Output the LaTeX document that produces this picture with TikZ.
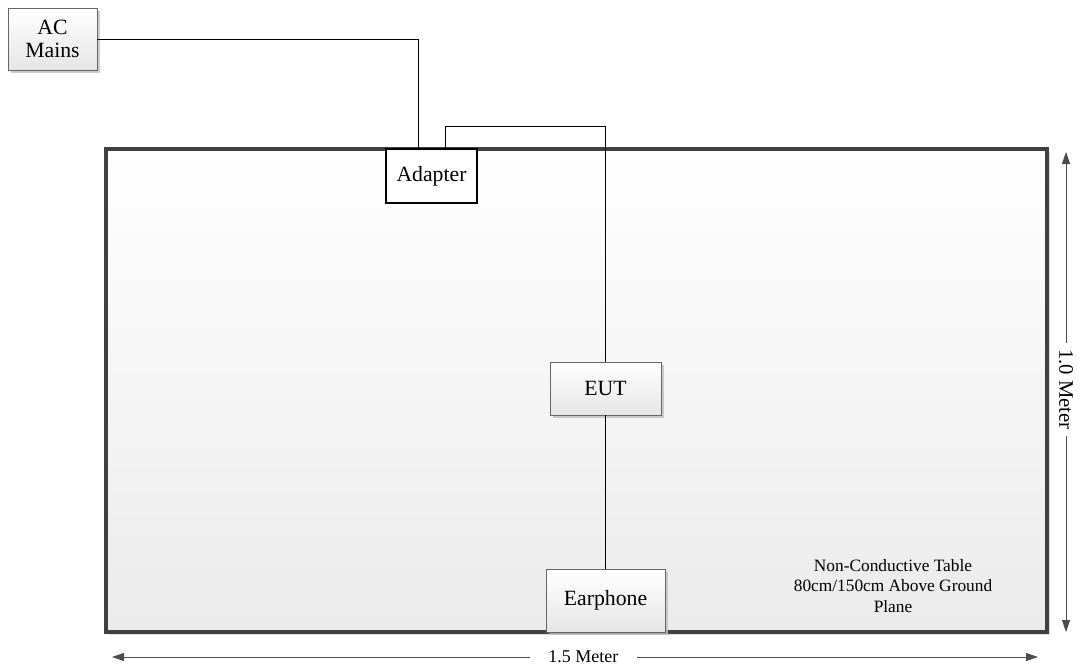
\documentclass[tikz,border=0pt]{standalone}
\usepackage{fontspec}
\setmainfont{Liberation Serif}
\usetikzlibrary{arrows.meta,shadows}
\begin{document}
\begin{tikzpicture}[x=0.75pt,y=-0.75pt,
  devbox/.style={draw=black!60, line width=0.6pt, top color=white, bottom color=black!10,
    drop shadow={shadow xshift=2pt, shadow yshift=-2pt, fill=black!25, opacity=0.8},
    font=\fontsize{16.3}{17}\selectfont, align=center, inner sep=0pt},
  plainbox/.style={draw=black, line width=0.8pt, fill=white,
    font=\fontsize{16.3}{17}\selectfont, inner sep=0pt},
  cable/.style={draw=black, line width=0.6pt},
  dimline/.style={draw=black!70, line width=0.6pt, {Triangle[length=9pt,width=6pt]}-{Triangle[length=9pt,width=6pt]}},
  dimlabel/.style={fill=white, inner sep=3pt}
]
\useasboundingbox (0,0) rectangle (1081,671);
% table
\node[draw=black!75, line width=2.3pt, top color=white, bottom color=black!8,
  drop shadow={shadow xshift=2pt, shadow yshift=-2pt, fill=black!20, opacity=0.6},
  minimum width=705.75pt, minimum height=362.25pt, inner sep=0pt] (table) at (576.5,390.5) {};
\node[font=\fontsize{13}{15.4}\selectfont, align=center] (tabletext) at (893,586)
  {Non-Conductive Table\\80cm/150cm Above Ground\\Plane};
% devices
\node[devbox, minimum width=66.75pt, minimum height=46.5pt] (ac) at (52.5,39) {AC\\Mains};
\node[plainbox, minimum width=68.25pt, minimum height=40.5pt] (adapter) at (431.5,176) {Adapter};
\node[devbox, minimum width=83.25pt, minimum height=39.75pt] (eut) at (605.5,388.5) {EUT};
\node[devbox, minimum width=89.25pt, minimum height=47.25pt] (ear) at (605.5,600.5) {Earphone};
% cables
\coordinate (a1) at (418,149);
\coordinate (a2) at (445,149);
\draw[cable] (ac.east) -| (a1);
\draw[cable] (a2) -- ++(0,-23) -| (eut.north);
\draw[cable] (eut.south) -- (ear.north);
% dimensions
\coordinate (v1) at (1066,152);
\coordinate (v2) at (1066,632);
\draw[dimline] (v1) -- node[dimlabel, rotate=-90, pos=0.495, inner xsep=5pt, font=\fontsize{15.5}{17}\selectfont] (vlabel) {1.0 Meter} (v2);
\coordinate (h1) at (112,657);
\coordinate (h2) at (1038,657);
\draw[dimline] (h1) -- node[dimlabel, pos=0.509, inner xsep=14pt, font=\fontsize{13.5}{15}\selectfont] (hlabel) {1.5 Meter} (h2);
\end{tikzpicture}
\end{document}
